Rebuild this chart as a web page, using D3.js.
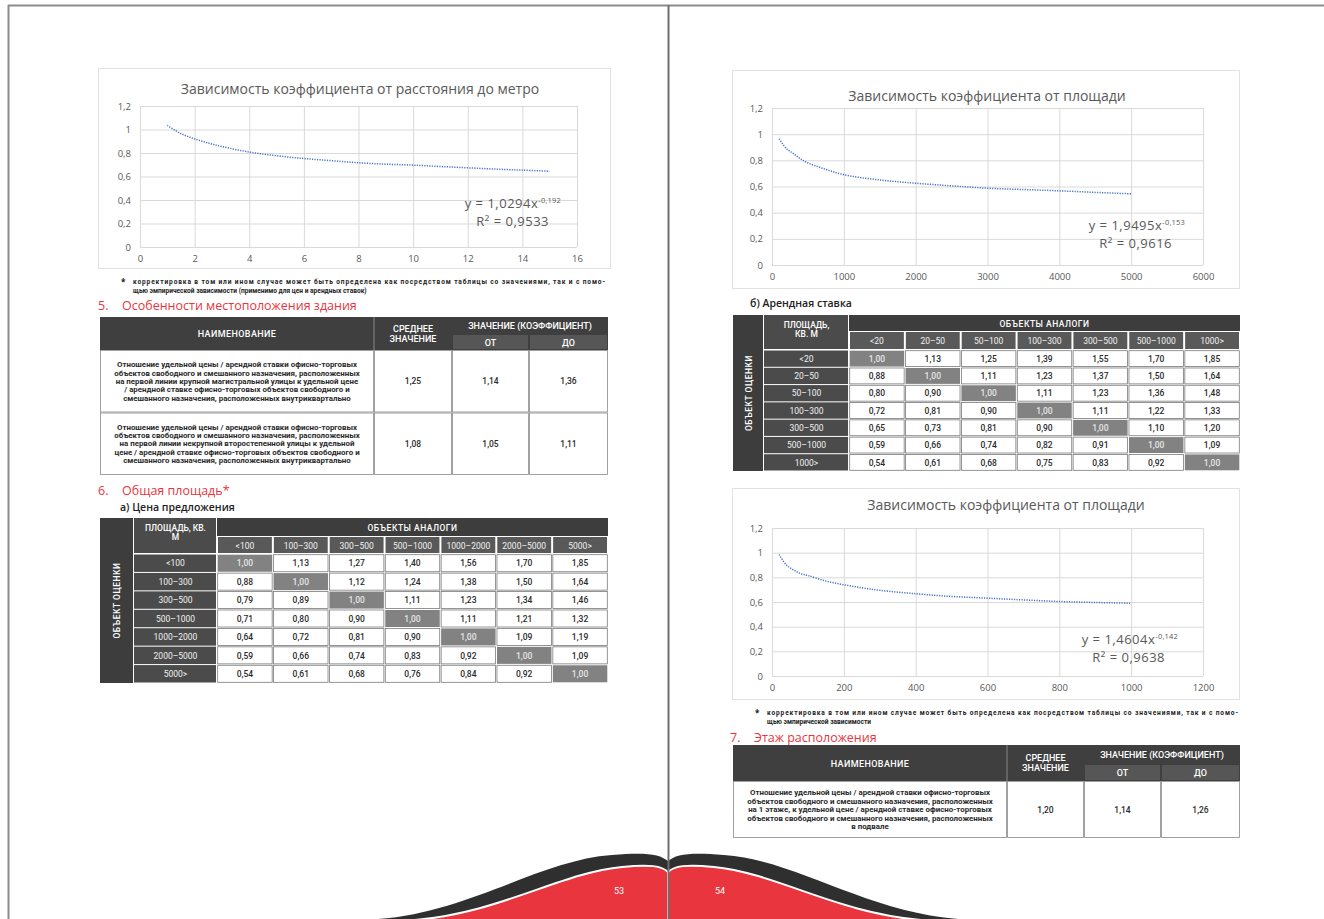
<!DOCTYPE html>
<html lang="ru">
<head>
<meta charset="UTF-8">
<title>Зависимость коэффициента</title>
<script src="https://d3js.org/d3.v7.min.js"></script>
<style>
  body { margin: 0; background: #fff; }
  svg { display: block; font-family: "Open Sans", sans-serif; }
</style>
</head>
<body>
<svg width="1324" height="919"></svg>
<script>
// --- данные графиков ---
var metroX = [1, 1.5, 2, 2.5, 3, 4, 5, 6, 7, 8, 9, 10, 11, 12, 13, 14, 15];
var metroY = [1.035, 0.965, 0.92, 0.885, 0.855, 0.808, 0.777, 0.753, 0.735, 0.717, 0.705, 0.697, 0.685, 0.674, 0.663, 0.654, 0.645];
var areaX = [100, 200, 300, 400, 500, 700, 1000, 1500, 2000, 2500, 3000, 3500, 4000, 4500, 5000];
var areaY = [0.965, 0.89, 0.85, 0.81, 0.78, 0.74, 0.69, 0.65, 0.625, 0.605, 0.587, 0.577, 0.567, 0.555, 0.544];
var rentX = [20, 40, 60, 80, 100, 150, 200, 250, 300, 400, 500, 600, 700, 800, 900, 1000];
var rentY = [0.985, 0.9, 0.86, 0.83, 0.815, 0.77, 0.74, 0.715, 0.695, 0.667, 0.645, 0.631, 0.617, 0.604, 0.596, 0.59];
var yTicks = [0, 0.2, 0.4, 0.6, 0.8, 1, 1.2];
var metroTicks = [0, 2, 4, 6, 8, 10, 12, 14, 16];
var areaTicks = [0, 1000, 2000, 3000, 4000, 5000, 6000];
var rentTicks = [0, 200, 400, 600, 800, 1000, 1200];

// --- данные таблиц ---
var priceCats = ["<100", "100–300", "300–500", "500–1000", "1000–2000", "2000–5000", "5000>"];
var priceValues = [
  [1.00, 1.13, 1.27, 1.40, 1.56, 1.70, 1.85],
  [0.88, 1.00, 1.12, 1.24, 1.38, 1.50, 1.64],
  [0.79, 0.89, 1.00, 1.11, 1.23, 1.34, 1.46],
  [0.71, 0.80, 0.90, 1.00, 1.11, 1.21, 1.32],
  [0.64, 0.72, 0.81, 0.90, 1.00, 1.09, 1.19],
  [0.59, 0.66, 0.74, 0.83, 0.92, 1.00, 1.09],
  [0.54, 0.61, 0.68, 0.76, 0.84, 0.92, 1.00]
];
var rentCats = ["<20", "20–50", "50–100", "100–300", "300–500", "500–1000", "1000>"];
var rentValues = [
  [1.00, 1.13, 1.25, 1.39, 1.55, 1.70, 1.85],
  [0.88, 1.00, 1.11, 1.23, 1.37, 1.50, 1.64],
  [0.80, 0.90, 1.00, 1.11, 1.23, 1.36, 1.48],
  [0.72, 0.81, 0.90, 1.00, 1.11, 1.22, 1.33],
  [0.65, 0.73, 0.81, 0.90, 1.00, 1.10, 1.20],
  [0.59, 0.66, 0.74, 0.82, 0.91, 1.00, 1.09],
  [0.54, 0.61, 0.68, 0.75, 0.83, 0.92, 1.00]
];
var locationRows = [
  { lines: ["Отношение удельной цены / арендной ставки офисно-торговых",
            "объектов свободного и смешанного назначения, расположенных",
            "на первой линии крупной магистральной улицы к удельной цене",
            "/ арендной ставке офисно-торговых объектов свободного и",
            "смешанного назначения, расположенных внутриквартально"],
    vals: [1.25, 1.14, 1.36] },
  { lines: ["Отношение удельной цены / арендной ставки офисно-торговых",
            "объектов свободного и смешанного назначения, расположенных",
            "на первой линии некрупной второстепенной улицы к удельной",
            "цене / арендной ставке офисно-торговых объектов свободного и",
            "смешанного назначения, расположенных внутриквартально"],
    vals: [1.08, 1.05, 1.11] }
];
var floorRows = [
  { lines: ["Отношение удельной цены / арендной ставки офисно-торговых",
            "объектов свободного и смешанного назначения, расположенных",
            "на 1 этаже, к удельной цене / арендной ставке офисно-торговых",
            "объектов свободного и смешанного назначения, расположенных",
            "в подвале"],
    vals: [1.20, 1.14, 1.26] }
];

var RED = "#e8353e";
var svg = d3.select("svg");
var comma = d => String(d).replace(".", ",");
var comma2 = d => d.toFixed(2).replace(".", ",");

// рамка разворота
svg.append("line").attr("x1", 8).attr("x2", 1324).attr("y1", 5.5).attr("y2", 5.5).attr("stroke", "#8c8c8c").attr("stroke-width", 2);
svg.append("line").attr("x1", 8.5).attr("x2", 8.5).attr("y1", 5).attr("y2", 919).attr("stroke", "#8c8c8c").attr("stroke-width", 2);

// --- график ---
function drawChart(c) {
  var g = svg.append("g");
  g.append("rect").attr("x", c.box[0] + 0.5).attr("y", c.box[1] + 0.5)
    .attr("width", c.box[2]).attr("height", c.box[3])
    .attr("fill", "#fff").attr("stroke", "#e2e2e2");
  g.append("text").attr("x", c.titleX).attr("y", c.titleY).attr("text-anchor", "middle")
    .attr("fill", "#595959").attr("font-size", 14).text(c.title);

  var x = d3.scaleLinear().domain([0, c.xTicks[c.xTicks.length - 1]]).range([c.left, c.right]);
  var y = d3.scaleLinear().domain([0, 1.2]).range([c.bottom, c.top]);

  var gy = g.append("g").attr("transform", `translate(${c.left},0)`)
    .call(d3.axisLeft(y).tickValues(yTicks).tickFormat(comma).tickSize(-(c.right - c.left)).tickPadding(9));
  var gx = g.append("g").attr("transform", `translate(0,${c.bottom})`)
    .call(d3.axisBottom(x).tickValues(c.xTicks).tickFormat(comma).tickSize(-(c.bottom - c.top)).tickPadding(8));
  [gx, gy].forEach(a => {
    a.select(".domain").remove();
    a.selectAll("line").attr("stroke", "#d9d9d9");
    a.selectAll("text").attr("fill", "#595959").attr("font-size", 9.5).attr("font-family", "Open Sans");
  });

  var pts = c.xs.map((v, i) => [v, c.ys[i]]);
  g.append("path").datum(pts)
    .attr("fill", "none").attr("stroke", "#4472c4").attr("stroke-width", 1.5)
    .attr("stroke-dasharray", "1.2 1.3")
    .attr("d", d3.line().x(d => x(d[0])).y(d => y(d[1])).curve(d3.curveCatmullRom.alpha(0.5)));

  // уравнение тренда и R²
  var eq = g.append("text").attr("x", c.eqX).attr("y", c.eqY - 2).attr("text-anchor", "end")
    .attr("fill", "#595959").attr("font-size", 13).attr("letter-spacing", 0.5);
  eq.append("tspan").text("y = " + c.coef + "x");
  eq.append("tspan").attr("dy", -5).attr("font-size", 7.5).attr("letter-spacing", 0.2).text(c.power);
  g.append("text").attr("x", c.r2X).attr("y", c.eqY + 16).attr("text-anchor", "end")
    .attr("fill", "#595959").attr("font-size", 13).attr("letter-spacing", 0.5).text("R² = " + c.r2);
}

drawChart({
  box: [98, 68, 512, 200], title: "Зависимость  коэффициента от расстояния  до метро",
  titleX: 360, titleY: 94, left: 140, right: 577, top: 106, bottom: 247,
  xs: metroX, ys: metroY, xTicks: metroTicks,
  eqX: 561, eqY: 210, r2X: 549, coef: "1,0294", power: "-0,192", r2: "0,9533"
});
drawChart({
  box: [732, 70, 507, 218], title: "Зависимость  коэффициента от площади",
  titleX: 987, titleY: 101, left: 772, right: 1203, top: 108, bottom: 265,
  xs: areaX, ys: areaY, xTicks: areaTicks,
  eqX: 1185, eqY: 232, r2X: 1172, coef: "1,9495", power: "-0,153", r2: "0,9616"
});
drawChart({
  box: [732, 488, 507, 211], title: "Зависимость  коэффициента от площади",
  titleX: 1006, titleY: 510, left: 772, right: 1203, top: 528, bottom: 676,
  xs: rentX, ys: rentY, xTicks: rentTicks,
  eqX: 1178, eqY: 646, r2X: 1165, coef: "1,4604", power: "-0,142", r2: "0,9638"
});

// --- текст ---
function heading(x, y, num, text) {
  svg.append("text").attr("x", x).attr("y", y).attr("fill", RED).attr("font-size", 12.5).text(num);
  svg.append("text").attr("x", x + 24).attr("y", y).attr("fill", RED).attr("font-size", 12.5).text(text);
}
function subheading(x, y, text) {
  svg.append("text").attr("x", x).attr("y", y).attr("fill", "#222").attr("font-size", 10.5)
    .attr("font-weight", 600).text(text);
}
function footnote(x, y, w, l1, l2) {
  svg.append("text").attr("x", x - 12).attr("y", y + 1).attr("font-size", 8).attr("font-weight", 700)
    .attr("fill", "#222").text("*");
  svg.append("text").attr("x", x).attr("y", y).attr("font-size", 6.6).attr("font-weight", 700)
    .attr("font-family", "Roboto").attr("fill", "#222")
    .attr("textLength", w).attr("lengthAdjust", "spacing").text(l1);
  svg.append("text").attr("x", x).attr("y", y + 8.5).attr("font-size", 6.6).attr("font-weight", 700)
    .attr("font-family", "Roboto").attr("fill", "#222").text(l2);
}

footnote(133, 284, 472,
  "корректировка в том или ином случае может быть определена как посредством таблицы со значениями, так и с помо-",
  "щью эмпирической зависимости (применимо для цен и арендных ставок)");
heading(98, 310, "5.", "Особенности местоположения здания");
heading(98, 495, "6.", "Общая площадь*");
subheading(120, 511, "а) Цена предложения");
subheading(750, 307, "б) Арендная ставка");
footnote(767, 715, 471,
  "корректировка в том или ином случае может быть определена как посредством таблицы со значениями, так и с помо-",
  "щью эмпирической зависимости");
heading(730, 742, "7.", "Этаж расположения");

// --- таблица коэффициентов ---
function drawCoefTable(c) {
  var g = svg.append("g").attr("font-family", "Roboto");
  var cx = c.cols;
  var hdr = "#3f3f3f";
  g.append("rect").attr("x", cx[0]).attr("y", c.top).attr("width", cx[4] - cx[0]).attr("height", c.hb - c.top).attr("fill", hdr);
  // нижний ряд шапки: ОТ / ДО
  [["ОТ", 2], ["ДО", 3]].forEach(p => {
    g.append("rect").attr("x", cx[p[1]] + 1).attr("y", c.mid + 1).attr("width", cx[p[1] + 1] - cx[p[1]] - 2)
      .attr("height", c.hb - c.mid - 2).attr("fill", "#565656");
    g.append("text").attr("x", (cx[p[1]] + cx[p[1] + 1]) / 2).attr("y", (c.mid + c.hb) / 2 + 3.5)
      .attr("text-anchor", "middle").attr("fill", "#fff").attr("font-size", 9).attr("font-weight", 500).text(p[0]);
  });
  g.append("line").attr("x1", cx[1]).attr("x2", cx[1]).attr("y1", c.top).attr("y2", c.hb).attr("stroke", "#888");
  g.append("text").attr("x", (cx[0] + cx[1]) / 2).attr("y", (c.top + c.hb) / 2 + 3.5).attr("text-anchor", "middle")
    .attr("fill", "#fff").attr("font-size", 9).attr("font-weight", 500).attr("letter-spacing", 0.4).text("НАИМЕНОВАНИЕ");
  g.append("text").attr("x", (cx[1] + cx[2]) / 2).attr("y", (c.top + c.hb) / 2 - 2).attr("text-anchor", "middle")
    .attr("fill", "#fff").attr("font-size", 9).attr("font-weight", 500).text("СРЕДНЕЕ");
  g.append("text").attr("x", (cx[1] + cx[2]) / 2).attr("y", (c.top + c.hb) / 2 + 8).attr("text-anchor", "middle")
    .attr("fill", "#fff").attr("font-size", 9).attr("font-weight", 500).text("ЗНАЧЕНИЕ");
  g.append("text").attr("x", (cx[2] + cx[4]) / 2).attr("y", (c.top + c.mid) / 2 + 3.5).attr("text-anchor", "middle")
    .attr("fill", "#fff").attr("font-size", 9).attr("font-weight", 500).text("ЗНАЧЕНИЕ (КОЭФФИЦИЕНТ)");

  var y = d3.scaleBand().domain(d3.range(c.rows.length)).range([c.hb, c.bottom]);
  var rows = g.selectAll(".row").data(c.rows).enter().append("g").attr("class", "row")
    .attr("transform", (d, i) => `translate(0,${y(i)})`);
  rows.each(function (d) {
    var r = d3.select(this);
    var h = y.bandwidth();
    for (var k = 0; k < 4; k++) {
      r.append("rect").attr("x", cx[k] + 0.5).attr("y", 0.5).attr("width", cx[k + 1] - cx[k] - 1)
        .attr("height", h - 1).attr("fill", "#fff").attr("stroke", "#8a8a8a").attr("stroke-width", 0.8);
    }
    var lh = 8.4;
    var y0 = h / 2 - (d.lines.length - 1) * lh / 2 + 2.7;
    d.lines.forEach((t, i) => {
      r.append("text").attr("x", (cx[0] + cx[1]) / 2).attr("y", y0 + i * lh).attr("text-anchor", "middle")
        .attr("font-size", 7.9).attr("font-weight", 700).attr("fill", "#2a2a2a").text(t);
    });
    d.vals.forEach((v, i) => {
      r.append("text").attr("x", (cx[i + 1] + cx[i + 2]) / 2).attr("y", h / 2 + 3)
        .attr("text-anchor", "middle").attr("font-size", 8.5).attr("font-weight", 500).attr("fill", "#2a2a2a").text(comma2(v));
    });
  });
}

drawCoefTable({ cols: [100, 374, 452, 529, 608], top: 317, mid: 334, hb: 350, bottom: 475, rows: locationRows });
drawCoefTable({ cols: [733, 1007, 1084, 1161, 1240], top: 745, mid: 764, hb: 781, bottom: 838, rows: floorRows });

// --- матрица корректировок ---
function drawMatrix(c) {
  var g = svg.append("g").attr("font-family", "Roboto");
  var x = d3.scaleBand().domain(d3.range(c.cats.length)).range([c.colX, c.right]);
  var y = d3.scaleBand().domain(d3.range(c.cats.length)).range([c.bodyTop, c.bottom]);

  g.append("rect").attr("x", c.left).attr("y", c.top).attr("width", c.labX - c.left - 1)
    .attr("height", c.bottom - c.top).attr("fill", "#3d3d3d");
  var vx = (c.left + c.labX) / 2, vy = (c.top + c.bottom) / 2;
  g.append("text").attr("transform", `translate(${vx + 3},${vy}) rotate(-90)`).attr("text-anchor", "middle")
    .attr("fill", "#fff").attr("font-size", 8.5).attr("font-weight", 500).attr("letter-spacing", 0.5).text("ОБЪЕКТ ОЦЕНКИ");

  g.append("rect").attr("x", c.labX).attr("y", c.top).attr("width", c.colX - c.labX - 1)
    .attr("height", c.bodyTop - c.top - 1).attr("fill", "#4b4b4b");
  c.corner.forEach((t, i) => {
    g.append("text").attr("x", (c.labX + c.colX) / 2).attr("y", c.top + 13 + i * 9).attr("text-anchor", "middle")
      .attr("fill", "#fff").attr("font-size", 8.5).attr("font-weight", 500).text(t);
  });

  g.append("rect").attr("x", c.colX).attr("y", c.top).attr("width", c.right - c.colX)
    .attr("height", c.midY - c.top - 1).attr("fill", "#3d3d3d");
  g.append("text").attr("x", (c.colX + c.right) / 2).attr("y", (c.top + c.midY) / 2 + 3.3).attr("text-anchor", "middle")
    .attr("fill", "#fff").attr("font-size", 8.5).attr("font-weight", 500).attr("letter-spacing", 0.5).text("ОБЪЕКТЫ АНАЛОГИ");

  var heads = g.selectAll(".ch").data(c.cats).enter().append("g").attr("class", "ch");
  heads.append("rect").attr("x", (d, i) => x(i) + 1).attr("y", c.midY)
    .attr("width", x.bandwidth() - 2).attr("height", c.bodyTop - c.midY - 1).attr("fill", "#595959");
  heads.append("text").attr("x", (d, i) => x(i) + x.bandwidth() / 2).attr("y", (c.midY + c.bodyTop) / 2 + 3.2)
    .attr("text-anchor", "middle").attr("fill", "#f2f2f2").attr("font-size", 8.5).text(d => d);

  var labs = g.selectAll(".rl").data(c.cats).enter().append("g").attr("class", "rl");
  labs.append("rect").attr("x", c.labX).attr("y", (d, i) => y(i) + 0.5)
    .attr("width", c.colX - c.labX - 1).attr("height", y.bandwidth() - 1).attr("fill", "#4b4b4b");
  labs.append("text").attr("x", (c.labX + c.colX) / 2).attr("y", (d, i) => y(i) + y.bandwidth() / 2 + 3.2)
    .attr("text-anchor", "middle").attr("fill", "#f2f2f2").attr("font-size", 8.5).text(d => d);

  var cells = [];
  c.values.forEach((row, i) => row.forEach((v, j) => cells.push({ i: i, j: j, v: v })));
  var cg = g.selectAll(".cell").data(cells).enter().append("g").attr("class", "cell");
  cg.append("rect").attr("x", d => x(d.j) + 0.7).attr("y", d => y(d.i) + 0.7)
    .attr("width", x.bandwidth() - 1.4).attr("height", y.bandwidth() - 1.4)
    .attr("fill", d => d.i === d.j ? "#828282" : "#fff")
    .attr("stroke", d => d.i === d.j ? "none" : "#7a7a7a").attr("stroke-width", 0.8);
  cg.append("text").attr("x", d => x(d.j) + x.bandwidth() / 2).attr("y", d => y(d.i) + y.bandwidth() / 2 + 3.2)
    .attr("text-anchor", "middle").attr("font-size", 8.5).attr("font-weight", 500)
    .attr("fill", d => d.i === d.j ? "#e6e6e6" : "#2a2a2a").text(d => comma2(d.v));
}

drawMatrix({ left: 100, labX: 134, colX: 217, right: 608, top: 518, midY: 537, bodyTop: 554, bottom: 683,
  cats: priceCats, values: priceValues, corner: ["ПЛОЩАДЬ, КВ.", "М"] });
drawMatrix({ left: 733, labX: 764, colX: 849, right: 1240, top: 315, midY: 332, bodyTop: 350, bottom: 471,
  cats: rentCats, values: rentValues, corner: ["ПЛОЩАДЬ,", "КВ. М"] });

// --- нижняя волна с номерами страниц ---
var wave = svg.append("g");
function halfWave(sel) {
  sel.append("path").attr("fill", "#2f2f2f")
    .attr("d", "M378,919 C470,912 540,860 612,855 C645,852 660,854 668,861 L668,919 Z");
  sel.append("path").attr("fill", RED).attr("stroke", "#fff").attr("stroke-width", 2)
    .attr("d", "M415,920 C500,913 560,873 622,867 C650,864 662,866 668,872 L668,920 Z");
}
halfWave(wave.append("g"));
halfWave(wave.append("g").attr("transform", "translate(1336,0) scale(-1,1)"));
wave.append("text").attr("x", 619).attr("y", 894).attr("text-anchor", "middle").attr("fill", "#fff")
  .attr("font-size", 9).attr("font-family", "Roboto").text("53");
wave.append("text").attr("x", 720).attr("y", 894).attr("text-anchor", "middle").attr("fill", "#fff")
  .attr("font-size", 9).attr("font-family", "Roboto").text("54");

// разделитель страниц
svg.append("line").attr("x1", 668.5).attr("x2", 668.5).attr("y1", 5).attr("y2", 919).attr("stroke", "#6e6e6e").attr("stroke-width", 2);
</script>
</body>
</html>
